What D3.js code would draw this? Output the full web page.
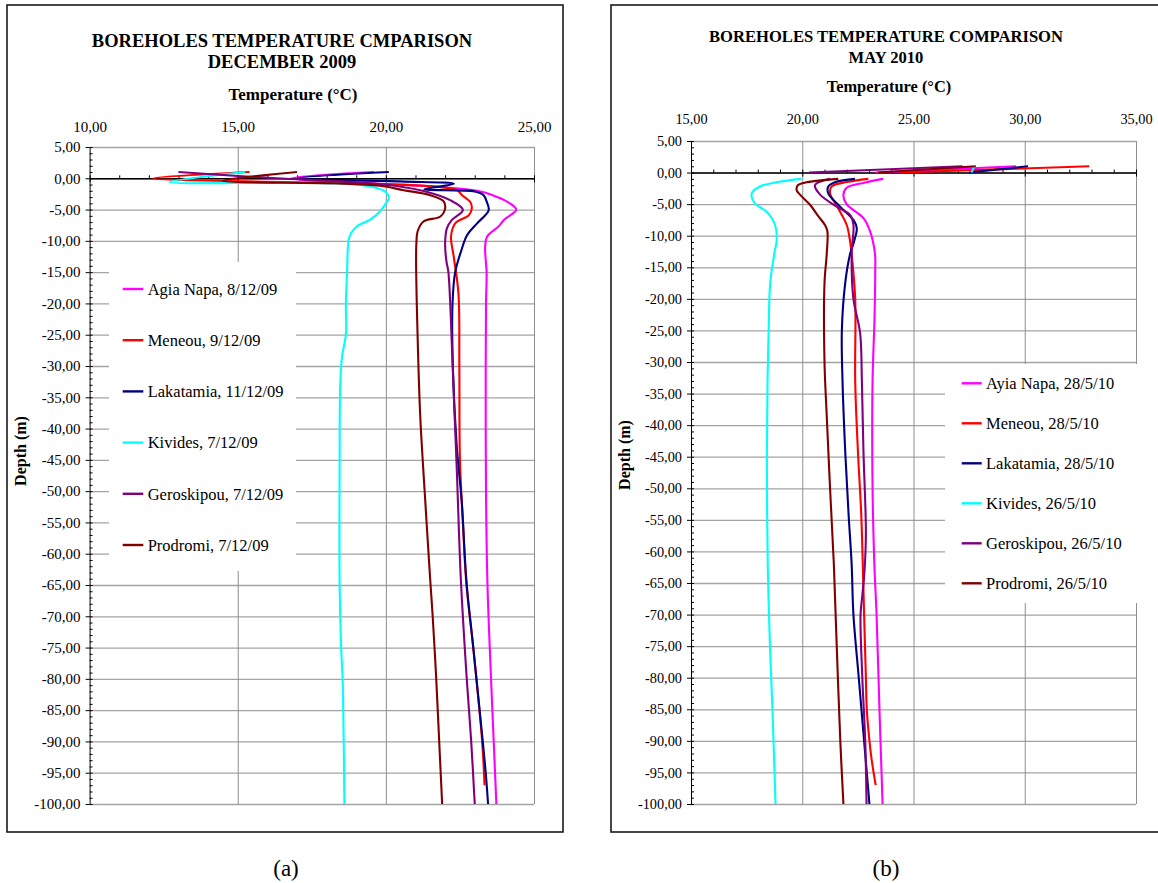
<html>
<head>
<script src="https://cdn.jsdelivr.net/npm/d3@7"></script>
<style>
body { margin:0; background:#fff; }
text { font-family:"Liberation Serif","Times New Roman",serif; fill:#000; }
</style>
</head>
<body>
<svg id="fig" width="1158" height="883"></svg>
<script>

// ---- chart (a) December 2009 : [depth (m), temperature (C)] ----
var seriesNamesDec = ["Agia Napa, 8/12/09","Meneou, 9/12/09","Lakatamia, 11/12/09","Kivides, 7/12/09","Geroskipou, 7/12/09","Prodromi, 7/12/09"]
var agiaNapaDec = [[1,19.6],[0,16.8],[-1.2,21.2],[-1.6,22.4],[-2.1,23.2],[-2.7,23.6],[-3.5,24.0],[-5,24.4],[-6.6,24.0],[-7.7,23.8],[-9.3,23.42],[-11,23.35],[-15,23.4],[-20,23.38],[-30,23.37],[-50,23.38],[-65,23.43],[-80,23.55],[-90,23.64],[-100,23.73]]
var meneouDec = [[1,15.4],[0,12.15],[-0.7,17.5],[-1.3,21.6],[-1.9,22.4],[-2.7,22.57],[-3.8,22.85],[-4.8,22.9],[-5.9,22.8],[-7.2,22.34],[-9.3,22.2],[-12.5,22.29],[-18.4,22.45],[-30,22.48],[-45,22.5],[-55,22.6],[-65,22.72],[-75,22.95],[-90,23.25],[-97,23.33]]
var lakatamiaDec = [[1,20.1],[0,17.0],[-0.5,20.5],[-0.9,22.3],[-1.75,21.3],[-2.1,23.0],[-2.7,23.3],[-3.7,23.4],[-5.1,23.47],[-7.2,23.08],[-9.1,22.74],[-11.5,22.55],[-15,22.34],[-20,22.25],[-30,22.26],[-42.7,22.39],[-51.6,22.56],[-64.4,22.72],[-75,22.95],[-90,23.27],[-95,23.37],[-100,23.45]]
var kividesDec = [[1,15.25],[-0.6,12.7],[-0.7,17.0],[-1.1,19.2],[-1.9,19.9],[-2.7,20.08],[-3.2,20.1],[-4.0,20.0],[-5.3,19.8],[-6.6,19.47],[-7.7,19.02],[-8.8,18.82],[-10,18.74],[-15,18.69],[-20,18.65],[-25,18.65],[-28.5,18.52],[-33,18.46],[-45,18.44],[-65,18.44],[-75,18.49],[-80,18.54],[-100,18.6]]
var geroskipouDec = [[1,13.0],[0,16.3],[-0.5,18.5],[-1.2,20.3],[-2.2,21.4],[-3.5,22.17],[-5.07,22.6],[-6.66,22.23],[-8.0,22.06],[-10.4,22.0],[-13.1,22.04],[-15,22.11],[-22,22.19],[-33,22.28],[-46,22.39],[-64,22.53],[-80,22.73],[-90,22.88],[-100,23.0]]
var prodromiDec = [[1,17.0],[-0.4,14.5],[-0.8,18.3],[-1.2,19.8],[-1.9,20.6],[-2.7,21.5],[-3.7,21.95],[-4.8,22.0],[-6.1,21.84],[-6.9,21.27],[-8.5,21.07],[-10.4,21.03],[-13,21.02],[-25,21.07],[-38,21.16],[-51.6,21.33],[-64.4,21.5],[-70,21.58],[-80,21.7],[-90,21.8],[-100,21.9]]

// ---- chart (b) May 2010 (null = break in the line) ----
var seriesNamesMay = ["Ayia Napa, 28/5/10","Meneou, 28/5/10","Lakatamia, 28/5/10","Kivides, 26/5/10","Geroskipou, 26/5/10","Prodromi, 26/5/10"]
var agiaNapaMay = [[1,29.6],[0,23.3],[-0.5,null],[-1,23.64],[-1.6,22.8],[-2.4,22.0],[-3.5,21.85],[-5.0,21.99],[-7.2,22.75],[-9.3,23.05],[-12.9,23.27],[-15.4,23.28],[-22.8,23.25],[-33,23.16],[-50,23.16],[-62,23.24],[-70,23.34],[-85,23.47],[-100,23.61]]
var meneouMay = [[1,32.9],[0,24.4],[-0.5,null],[-1,22.97],[-1.5,22.0],[-2.2,21.32],[-3.3,21.25],[-5.7,21.62],[-8.3,22.0],[-10.9,22.15],[-12.9,22.22],[-20,22.38],[-33,22.38],[-44,22.5],[-54,22.65],[-62,22.72],[-70,22.78],[-80,22.86],[-85,22.9],[-90,23.02],[-93,23.12],[-97,23.3]]
var lakatamiaMay = [[1,30.15],[0,27.5],[-0.5,null],[-1,22.37],[-1.5,21.5],[-2.2,21.17],[-3.3,21.17],[-5.4,21.7],[-7.5,22.3],[-8.8,22.45],[-10.9,22.33],[-12.9,22.15],[-17.5,21.93],[-25,21.78],[-33,21.81],[-44,21.93],[-54,22.08],[-62,22.22],[-70,22.3],[-80,22.54],[-90,22.78],[-100,23.02]]
var kividesMay = [[1,27.75],[0,27.6],[-0.5,null],[-1,19.97],[-1.5,18.9],[-2.2,18.1],[-3.3,17.73],[-4.9,17.88],[-6.2,18.4],[-8.3,18.78],[-10.9,18.85],[-12.3,18.77],[-17.5,18.56],[-25,18.49],[-33,18.44],[-45,18.41],[-62,18.45],[-75,18.55],[-85,18.66],[-100,18.8]]
var geroskipouMay = [[1,27.2],[0,20.3],[-0.5,null],[-1,21.25],[-1.5,20.75],[-2.0,20.57],[-3.5,20.8],[-5.4,21.55],[-6.7,22.15],[-8.3,22.3],[-12.9,22.22],[-20,22.3],[-25.4,22.6],[-33,22.68],[-44,22.75],[-57,22.86],[-63,22.8],[-67,22.7],[-70,22.62],[-80,22.7],[-90,22.83],[-100,22.89]]
var prodromiMay = [[1,27.8],[0,23.4],[-0.5,null],[-1,21.62],[-1.6,20.1],[-2.0,19.8],[-2.8,19.75],[-3.5,19.9],[-5.1,20.35],[-6.9,20.72],[-8.3,21.02],[-9.3,21.13],[-12.9,21.1],[-17.5,21.0],[-30,21.0],[-38.5,21.1],[-50,21.25],[-62,21.42],[-75,21.55],[-90,21.71],[-100,21.85]]

var depthTicks = d3.range(5,-101,-5)
var depthMinor = d3.range(5,-101,-1)
var tempTicksDec = [10,15,20,25]
var tempTicksMay = [15,20,25,30,35]
var colors = ["#ff00ff","#ff0000","#000080","#00ffff","#800080","#800000"]

var loc = d3.formatLocale({decimal:",", thousands:".", grouping:[3], currency:["",""], minus:"-"})
var fmt = loc.format(".2f")

var svg = d3.select("#fig")

function drawPanel(p){
	var g = svg.append("g")
	g.append("rect").attr("x",p.frame[0]).attr("y",p.frame[1])
		.attr("width",p.frame[2]-p.frame[0]).attr("height",p.frame[3]-p.frame[1])
		.attr("fill","white").attr("stroke","#1a1a1a").attr("stroke-width",1.6)

	var x = d3.scaleLinear().domain([p.temps[0],p.temps[p.temps.length-1]]).range(p.xRange)
	var y = d3.scaleLinear().domain([5,-100]).range(p.yRange)
	var w = p.xRange[1]-p.xRange[0], h = p.yRange[1]-p.yRange[0]

	// grid
	g.append("g").attr("transform","translate("+p.xRange[0]+",0)")
		.call(d3.axisLeft(y).tickValues(depthTicks).tickSize(-w).tickFormat(""))
		.call(function(a){ a.select(".domain").remove() })
		.selectAll("line").attr("stroke","#a3a3a3").attr("stroke-width",1.3)
	g.append("g").attr("transform","translate(0,"+p.yRange[0]+")")
		.call(d3.axisBottom(x).tickValues(p.temps.slice(1)).tickSize(h).tickFormat(""))
		.call(function(a){ a.select(".domain").remove() })
		.selectAll("line").attr("stroke","#8f8f8f").attr("stroke-width",1)

	// legend box hides the grid
	var lb = p.legend.box
	g.append("rect").attr("x",lb[0]).attr("y",lb[1]).attr("width",lb[2]-lb[0]).attr("height",lb[3]-lb[1]).attr("fill","white")

	// top tick labels
	g.append("g").attr("transform","translate(0,"+p.yRange[0]+")")
		.call(d3.axisTop(x).tickValues(p.temps).tickSize(0).tickPadding(p.xLabelGap).tickFormat(fmt))
		.call(function(a){ a.select(".domain").remove() })
		.selectAll("text").attr("font-size",p.tickFont).attr("font-family","Liberation Serif")

	// y axis
	g.append("g").attr("transform","translate("+p.xRange[0]+",0)")
		.call(d3.axisLeft(y).tickValues(depthTicks).tickSize(4).tickSizeOuter(0).tickPadding(5).tickFormat(fmt))
		.call(function(a){ a.selectAll("text").attr("font-size",p.tickFont).attr("font-family","Liberation Serif") })
	g.append("g").attr("transform","translate("+p.xRange[0]+",0)")
		.call(d3.axisLeft(y).tickValues(depthMinor).tickSize(-3).tickFormat(""))
		.call(function(a){ a.select(".domain").remove() })

	// x axis on depth 0
	var xMinor = d3.range(p.temps[0],p.temps[p.temps.length-1]+0.5,1)
	g.append("g").attr("transform","translate(0,"+y(0)+")")
		.call(d3.axisTop(x).tickValues(xMinor).tickSize(3).tickSizeOuter(0).tickFormat(""))
		.select(".domain").attr("stroke-width",1.4)
	g.append("g").attr("transform","translate(0,"+y(0)+")")
		.call(d3.axisBottom(x).tickValues(p.temps).tickSize(4).tickFormat(""))
		.call(function(a){ a.select(".domain").remove() })

	// profiles
	var line = d3.line().defined(function(d){ return d[1] != null })
		.x(function(d){ return x(d[1]) }).y(function(d){ return y(d[0]) })
		.curve(d3.curveCatmullRom.alpha(0.5))
	g.append("g").selectAll("path").data(p.series).enter().append("path")
		.attr("d",line).attr("fill","none")
		.attr("stroke",function(d,i){ return colors[i] }).attr("stroke-width",2.1)
		.attr("stroke-linejoin","round")

	// legend entries
	var le = g.append("g").selectAll("g").data(p.names).enter().append("g")
		.attr("transform",function(d,i){ return "translate(0,"+(p.legend.y0+i*p.legend.dy)+")" })
	le.append("line").attr("x1",p.legend.sx[0]).attr("x2",p.legend.sx[1])
		.attr("stroke",function(d,i){ return colors[i] }).attr("stroke-width",2.4)
	le.append("text").attr("x",p.legend.tx).attr("dy","0.35em").attr("font-size",p.legend.font).text(function(d){ return d })

	// titles
	g.selectAll(".ttl").data(p.title).enter().append("text").attr("class","ttl")
		.attr("x",p.titleX).attr("y",function(d,i){ return p.titleY[i] })
		.attr("text-anchor","middle").attr("font-weight","bold").attr("font-size",p.titleFont).text(function(d){ return d })
	g.append("text").attr("x",p.axisTitle[0]).attr("y",p.axisTitle[1]).attr("text-anchor","middle")
		.attr("font-weight","bold").attr("font-size",p.axisTitleFont).text("Temperature (°C)")
	g.append("text").attr("transform","translate("+p.depthLabel[0]+","+p.depthLabel[1]+") rotate(-90)")
		.attr("text-anchor","middle").attr("dy","0.35em").attr("font-weight","bold").attr("font-size",16).text("Depth (m)")

	g.append("text").attr("x",p.caption[0]).attr("y",p.caption[1]).attr("text-anchor","middle").attr("dy","0.35em")
		.attr("font-size",23).text(p.caption[2])
}

drawPanel({
	frame:[7,5,563,832], xRange:[89.6,534], yRange:[147,804], temps:tempTicksDec,
	series:[agiaNapaDec,meneouDec,lakatamiaDec,kividesDec,geroskipouDec,prodromiDec], names:seriesNamesDec,
	title:["BOREHOLES TEMPERATURE CMPARISON","DECEMBER 2009"], titleX:282, titleY:[46.5,67.5], titleFont:18.5,
	axisTitle:[293,100], axisTitleFont:17, tickFont:15, xLabelGap:15,
	depthLabel:[20,451],
	legend:{box:[109,262,296,571], sx:[122.7,143.3], tx:147.7, y0:289, dy:51.2, font:16.5},
	caption:[286,868,"(a)"]
})

drawPanel({
	frame:[611,5,1162,832], xRange:[691,1136], yRange:[141,804], temps:tempTicksMay,
	series:[agiaNapaMay,meneouMay,lakatamiaMay,kividesMay,geroskipouMay,prodromiMay], names:seriesNamesMay,
	title:["BOREHOLES TEMPERATURE COMPARISON","MAY 2010"], titleX:886, titleY:[41.5,62.5], titleFont:16.6,
	axisTitle:[889,91.5], axisTitleFont:16.4, tickFont:14.3, xLabelGap:17,
	depthLabel:[624,455],
	legend:{box:[945,364,1137,603], sx:[961.7,981.7], tx:986, y0:383.3, dy:40, font:16.5},
	caption:[886,868,"(b)"]
})

</script>
</body>
</html>
